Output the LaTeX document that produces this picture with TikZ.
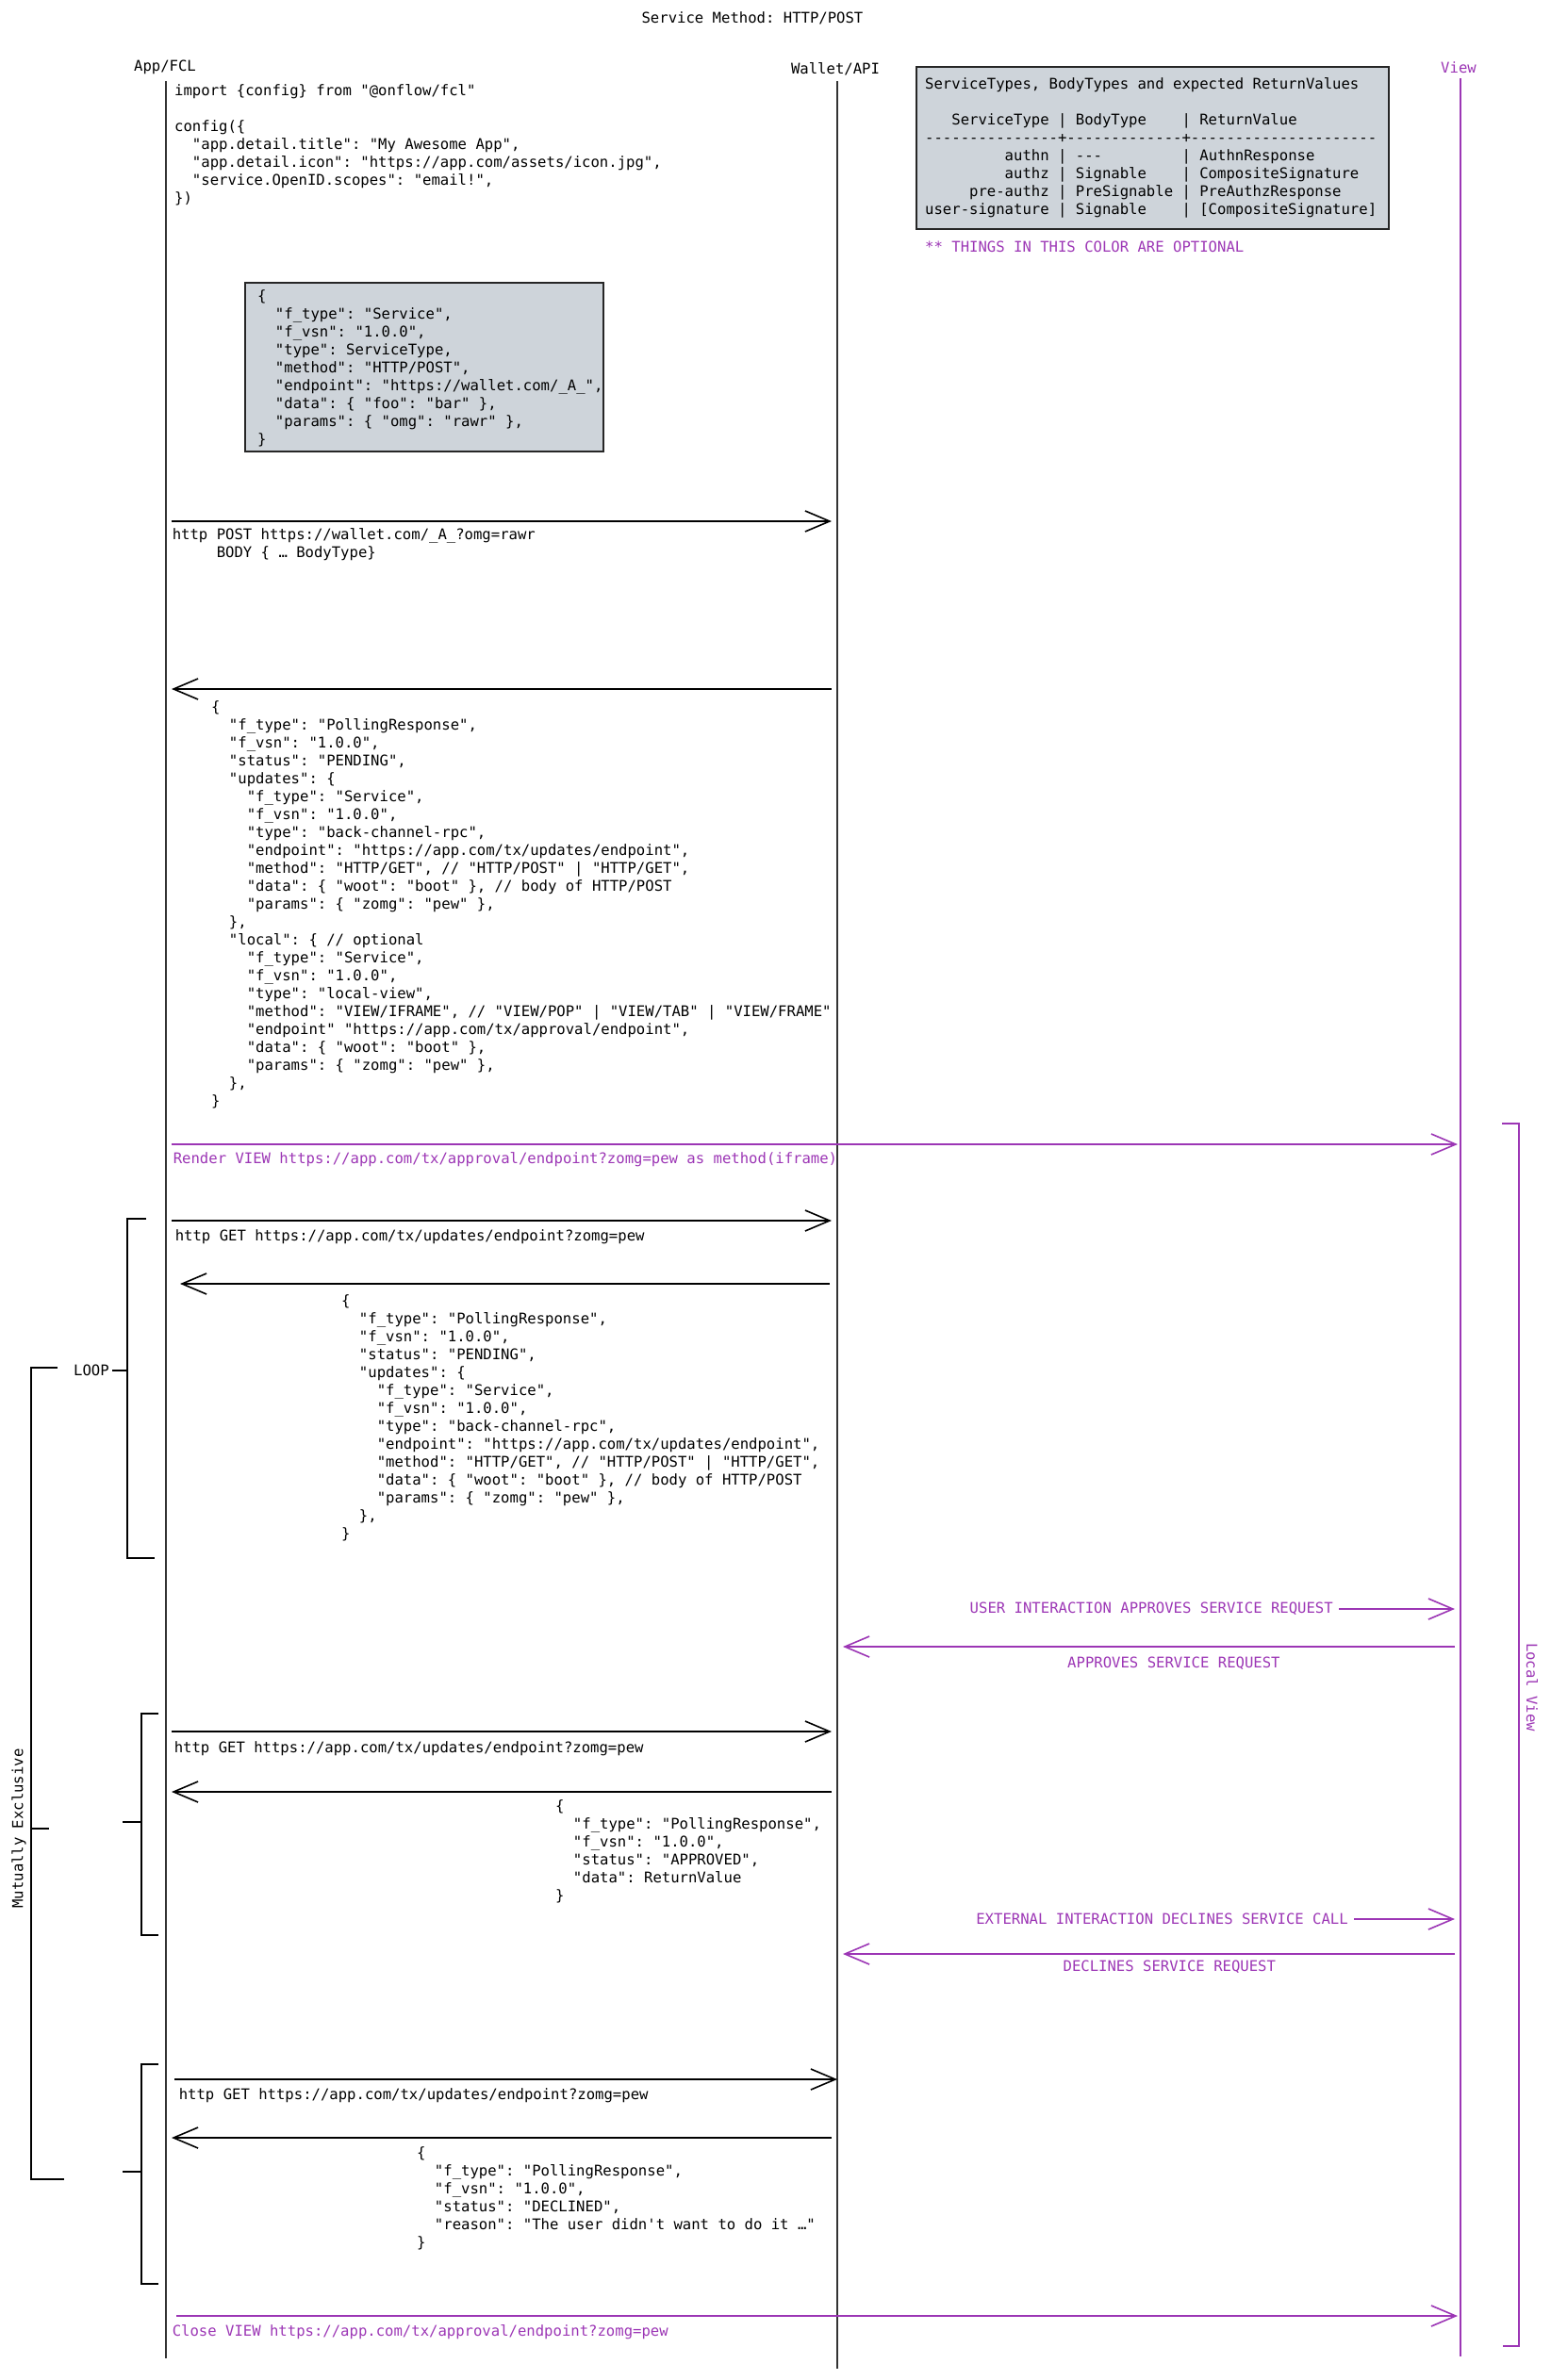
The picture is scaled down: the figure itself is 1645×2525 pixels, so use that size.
\documentclass[tikz,border=0pt]{standalone}
\usepackage{fontspec}
\setmonofont{DejaVu Sans Mono}
\usetikzlibrary{arrows.meta}
\definecolor{optviolet}{RGB}{156,54,181}
\definecolor{notegray}{RGB}{206,212,218}

\begin{document}
\begin{tikzpicture}[x=1pt, y=-1pt,
    font=\ttfamily\fontsize{15.6}{19}\selectfont,
    life/.style={black!80, line width=1.6pt},
    msg/.style={line width=1.6pt, -{Straight Barb[length=26pt,width=22pt]}, shorten <=6pt, shorten >=6pt},
    optmsg/.style={msg, optviolet},
    code/.style={anchor=north west, align=left, inner sep=0pt},
    note/.style={draw=black!85, fill=notegray, line width=1.5pt},
    brk/.style={line width=1.5pt}]
    \useasboundingbox (0,0) rectangle (1645,2525);
    \node (title) at (798,19) {Service Method: HTTP/POST};

    % lifelines
    \node (app) at (175,71) {App/FCL};
    \node (wallet) at (886,73) {Wallet/API};
    \node[optviolet] (view) at (1547,72) {View};
    \coordinate (appTop) at (176,86);
    \coordinate (appEnd) at (176,2502);
    \coordinate (walletTop) at (888,86);
    \coordinate (walletEnd) at (888,2513);
    \coordinate (viewTop) at (1549,83);
    \coordinate (viewEnd) at (1549,2500);
    \draw[life] (appTop) -- (appEnd);
    \draw[life] (walletTop) -- (walletEnd);
    \draw[life, optviolet] (viewTop) -- (viewEnd);

    \node[code] (config) at (185,89) {import \{config\} from "@onflow/fcl"\\
        \mbox{}\\
        config(\{\\
        \ \ "app.detail.title": "My Awesome App",\\
        \ \ "app.detail.icon": "https://app.com/assets/icon.jpg",\\
        \ \ "service.OpenID.scopes": "email!",\\
        \})};

    \draw[note] (972,71) rectangle (1473,243);
    \node[code] (types) at (981,82) {ServiceTypes, BodyTypes and expected ReturnValues\\
        \mbox{}\\
        \ \ \ ServiceType | BodyType\ \ \ \ | ReturnValue\\
        ---------------+-------------+---------------------\\
        \ \ \ \ \ \ \ \ \ authn | ---\ \ \ \ \ \ \ \ \ | AuthnResponse\\
        \ \ \ \ \ \ \ \ \ authz | Signable\ \ \ \ | CompositeSignature\\
        \ \ \ \ \ pre-authz | PreSignable | PreAuthzResponse\\
        user-signature | Signable\ \ \ \ | [CompositeSignature]};
    \node[code, optviolet] (optNote) at (981,256) {** THINGS IN THIS COLOR ARE OPTIONAL};

    \draw[note] (260,300) rectangle (640,479);
    \node[code] (service) at (273,307) {\{\\
        \ \ "f\_type": "Service",\\
        \ \ "f\_vsn": "1.0.0",\\
        \ \ "type": ServiceType,\\
        \ \ "method": "HTTP/POST",\\
        \ \ "endpoint": "https://wallet.com/\_A\_",\\
        \ \ "data": \{ "foo": "bar" \},\\
        \ \ "params": \{ "omg": "rawr" \},\\
        \}};

    % message rows
    \foreach \n/\y in {post/553, ret1/731, render/1214, get1/1295, ret2/1362, appr/1747,
        get2/1837, ret3/1901, decl/2073, get3/2206, ret4/2268, close/2457}
        \coordinate (\n) at (0,\y);

    \draw[msg] (appTop |- post) -- (walletTop |- post)
        node[code, pos=0, xshift=6pt, yshift=-7pt] (postLbl) {http POST https://wallet.com/\_A\_?omg=rawr\\
        \ \ \ \ \ BODY \{ … BodyType\}};
    \draw[msg] (walletTop |- ret1) -- (appTop |- ret1);
    \node[code] (pending) at (224,743) {\{\\
        \ \ "f\_type": "PollingResponse",\\
        \ \ "f\_vsn": "1.0.0",\\
        \ \ "status": "PENDING",\\
        \ \ "updates": \{\\
        \ \ \ \ "f\_type": "Service",\\
        \ \ \ \ "f\_vsn": "1.0.0",\\
        \ \ \ \ "type": "back-channel-rpc",\\
        \ \ \ \ "endpoint": "https://app.com/tx/updates/endpoint",\\
        \ \ \ \ "method": "HTTP/GET", // "HTTP/POST" | "HTTP/GET",\\
        \ \ \ \ "data": \{ "woot": "boot" \}, // body of HTTP/POST\\
        \ \ \ \ "params": \{ "zomg": "pew" \},\\
        \ \ \},\\
        \ \ "local": \{ // optional\\
        \ \ \ \ "f\_type": "Service",\\
        \ \ \ \ "f\_vsn": "1.0.0",\\
        \ \ \ \ "type": "local-view",\\
        \ \ \ \ "method": "VIEW/IFRAME", // "VIEW/POP" | "VIEW/TAB" | "VIEW/FRAME"\\
        \ \ \ \ "endpoint" "https://app.com/tx/approval/endpoint",\\
        \ \ \ \ "data": \{ "woot": "boot" \},\\
        \ \ \ \ "params": \{ "zomg": "pew" \},\\
        \ \ \},\\
        \}};

    \draw[optmsg, shorten >=3pt] (appTop |- render) -- (viewTop |- render)
        node[code, pos=0, xshift=7pt, yshift=-8pt] (renderLbl) {Render VIEW https://app.com/tx/approval/endpoint?zomg=pew as method(iframe)};

    \draw[msg] (appTop |- get1) -- (walletTop |- get1)
        node[code, pos=0, xshift=9pt, yshift=-9pt] (get1Lbl) {http GET https://app.com/tx/updates/endpoint?zomg=pew};
    \draw[msg, shorten <=8pt, shorten >=15pt] (walletTop |- ret2) -- (appTop |- ret2);
    \node[code] (pending2) at (362,1373) {\{\\
        \ \ "f\_type": "PollingResponse",\\
        \ \ "f\_vsn": "1.0.0",\\
        \ \ "status": "PENDING",\\
        \ \ "updates": \{\\
        \ \ \ \ "f\_type": "Service",\\
        \ \ \ \ "f\_vsn": "1.0.0",\\
        \ \ \ \ "type": "back-channel-rpc",\\
        \ \ \ \ "endpoint": "https://app.com/tx/updates/endpoint",\\
        \ \ \ \ "method": "HTTP/GET", // "HTTP/POST" | "HTTP/GET",\\
        \ \ \ \ "data": \{ "woot": "boot" \}, // body of HTTP/POST\\
        \ \ \ \ "params": \{ "zomg": "pew" \},\\
        \ \ \},\\
        \}};

    \node[optviolet, anchor=east, inner sep=0pt] (userAct) at (1414,1707) {USER INTERACTION APPROVES SERVICE REQUEST};
    \draw[optmsg] (userAct.east) -- (viewTop |- userAct);
    \draw[optmsg] (viewTop |- appr) -- (walletTop |- appr)
        node[pos=0.46, below=7pt] (apprLbl) {APPROVES SERVICE REQUEST};

    \draw[msg] (appTop |- get2) -- (walletTop |- get2)
        node[code, pos=0, xshift=8pt, yshift=-10pt] (get2Lbl) {http GET https://app.com/tx/updates/endpoint?zomg=pew};
    \draw[msg] (walletTop |- ret3) -- (appTop |- ret3);
    \node[code] (approved) at (589,1909) {\{\\
        \ \ "f\_type": "PollingResponse",\\
        \ \ "f\_vsn": "1.0.0",\\
        \ \ "status": "APPROVED",\\
        \ \ "data": ReturnValue\\
        \}};

    \node[optviolet, anchor=east, inner sep=0pt] (extAct) at (1430,2036) {EXTERNAL INTERACTION DECLINES SERVICE CALL};
    \draw[optmsg] (extAct.east) -- (viewTop |- extAct);
    \draw[optmsg] (viewTop |- decl) -- (walletTop |- decl)
        node[pos=0.467, below=3pt] (declLbl) {DECLINES SERVICE REQUEST};

    \draw[msg, shorten <=9pt, shorten >=0pt] (appTop |- get3) -- (walletTop |- get3)
        node[code, pos=0, xshift=13pt, yshift=-9pt] (get3Lbl) {http GET https://app.com/tx/updates/endpoint?zomg=pew};
    \draw[msg] (walletTop |- ret4) -- (appTop |- ret4);
    \node[code] (declined) at (442,2277) {\{\\
        \ \ "f\_type": "PollingResponse",\\
        \ \ "f\_vsn": "1.0.0",\\
        \ \ "status": "DECLINED",\\
        \ \ "reason": "The user didn't want to do it …"\\
        \}};

    \draw[optmsg, shorten <=11pt, shorten >=3pt] (appTop |- close) -- (viewTop |- close)
        node[code, pos=0, xshift=6pt, yshift=-9pt] (closeLbl) {Close VIEW https://app.com/tx/approval/endpoint?zomg=pew};

    % brackets
    \draw[brk] (155,1293) -| (135,1653) -- (164,1653);
    \node (loop) at (97,1454) {LOOP};
    \draw[brk] (loop.east) -- (135,1454);
    \foreach \top/\bot/\mid in {1818/2053/1933, 2190/2423/2304} {
        \draw[brk] (168,\top) -| (150,\bot) -- (168,\bot);
        \draw[brk] (130,\mid) -- (150,\mid);
    }
    \draw[brk] (61,1451) -| (33,2312) -- (68,2312);
    \draw[brk] (33,1940) -- (52,1940);
    \node[rotate=90] (mutex) at (20,1940) {Mutually Exclusive};
    \draw[brk, optviolet] (1593,1192) -| (1611,2489) -- (1594,2489);
    \node[rotate=-90, optviolet] (localView) at (1625,1790) {Local View};
\end{tikzpicture}
\end{document}
